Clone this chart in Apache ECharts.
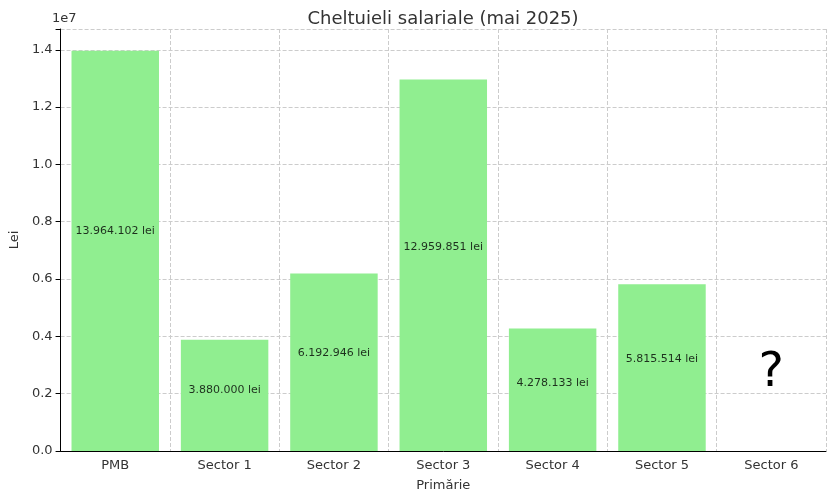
<!DOCTYPE html>
<html><head><meta charset="utf-8">
<script src="https://cdn.jsdelivr.net/npm/echarts@6/dist/echarts.min.js"></script>
<style>html,body{margin:0;padding:0;background:#fff}#c{width:827px;height:497px}</style>
</head><body><div id="c"></div>
<script>
const categories = ['PMB','Sector 1','Sector 2','Sector 3','Sector 4','Sector 5','Sector 6'];
const values = [13964102, 3880000, 6192946, 12959851, 4278133, 5815514, null];
const yTicks = ['0.0','0.2','0.4','0.6','0.8','1.0','1.2','1.4'];
function fmt(v){return v.toString().replace(/\B(?=(\d{3})+(?!\d))/g,'.')+' lei';}
const chart = echarts.init(document.getElementById('c'));
const font = 'DejaVu Sans';
chart.setOption({
  animation:false,
  textStyle:{fontFamily:font},
  title:{text:'Cheltuieli salariale (mai 2025)',left:438,top:5,textAlign:'center',textStyle:{fontSize:18,fontWeight:'normal',color:'#333'}},
  grid:{left:50,right:1,top:29,bottom:42},
  xAxis:{type:'category',data:categories,name:'Primărie',nameLocation:'middle',nameGap:28,
    nameTextStyle:{fontSize:13,color:'#333'},
    axisLine:{lineStyle:{color:'#000'}},axisTick:{alignWithLabel:true,lineStyle:{color:'#000'}},
    axisLabel:{fontSize:13,color:'#333',interval:0},
    splitLine:{show:true,interval:0,lineStyle:{type:'dashed',color:'#ccc'}}},
  yAxis:{type:'value',min:0,max:14726000,interval:2000000,name:'Lei',nameLocation:'middle',nameGap:33,
    nameTextStyle:{fontSize:13,color:'#333'},
    axisLine:{show:true,lineStyle:{color:'#000'}},axisTick:{show:true,lineStyle:{color:'#000'}},
    axisLabel:{fontSize:13,color:'#333',formatter:(v,i)=>yTicks[i]||''},
    splitLine:{lineStyle:{type:'dashed',color:'#ccc'}}},
  series:[
    {type:'bar',data:values,barWidth:'80%',itemStyle:{color:'#90ee90'}},
    {type:'scatter',symbolSize:0,data:values.map((v,i)=>v==null?null:[i,v*0.55]),
     label:{show:true,position:'inside',color:'#000',fontSize:11,formatter:p=>fmt(values[p.dataIndex])}}
  ]
});
const p = chart.convertToPixel({seriesIndex:0},[6,2700000]);
chart.setOption({graphic:[
  {type:'text',left:52,top:12,style:{text:'1e7',fontSize:13,fill:'#333',fontFamily:font}},
  {type:'text',x:p[0],y:p[1],style:{text:'?',fontSize:48,fill:'#000',fontFamily:font,align:'center',verticalAlign:'middle'}}
]});
</script></body></html>
